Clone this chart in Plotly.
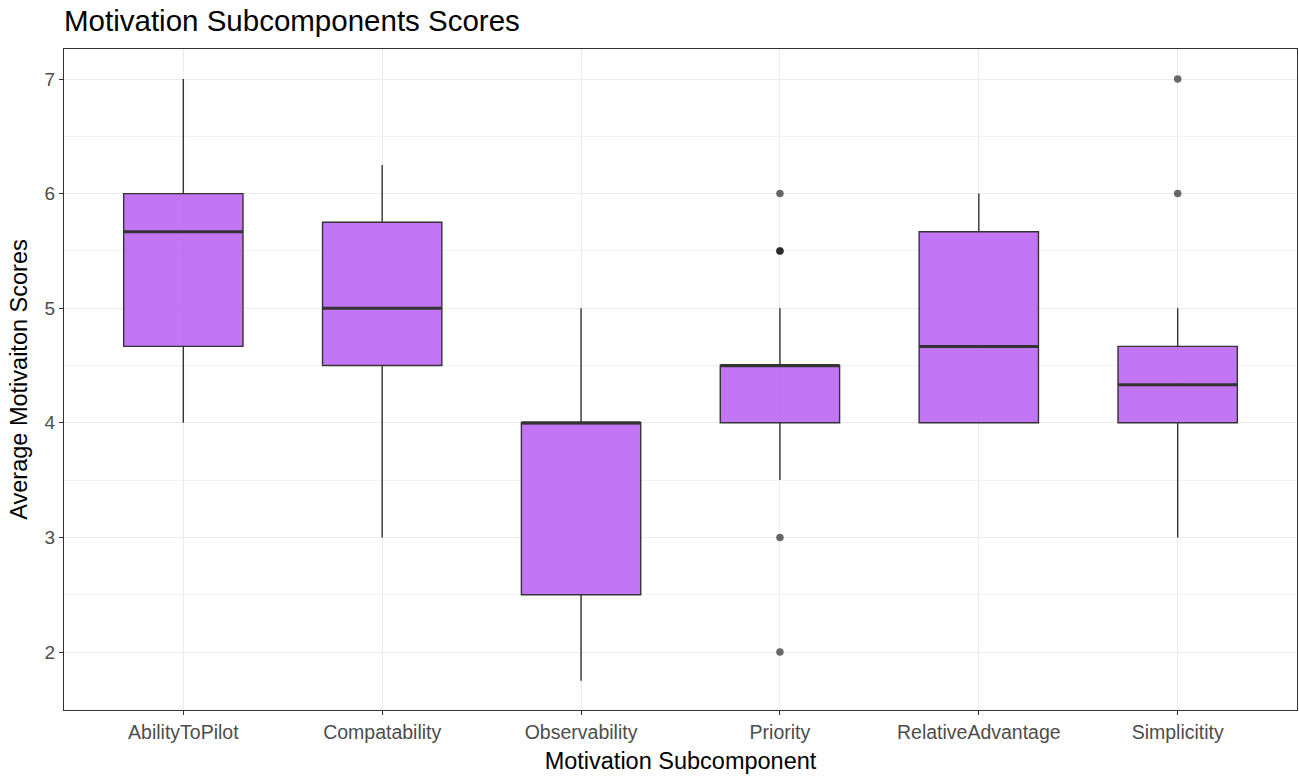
import plotly.graph_objects as go

# Summary statistics per motivation subcomponent
categories = ["AbilityToPilot", "Compatability", "Observability",
              "Priority", "RelativeAdvantage", "Simplicitity"]
q1 = [4.667, 4.5, 2.5, 4.0, 4.0, 4.0]
median = [5.667, 5.0, 4.0, 4.5, 4.667, 4.333]
q3 = [6.0, 5.75, 4.0, 4.5, 5.667, 4.667]
lower_whisker = [4.0, 3.0, 1.75, 3.5, 4.0, 3.0]
upper_whisker = [7.0, 6.25, 5.0, 5.0, 6.0, 5.0]

# Outlying observations (category index, score)
outlier_cat = [3, 3, 3, 3, 3, 5, 5]
outlier_val = [6.0, 5.5, 5.5, 3.0, 2.0, 7.0, 6.0]

box_width = 0.6
font_family = "Liberation Sans, Arial, sans-serif"
fill = "rgba(187,103,244,0.9)"
edge = "#333333"

fig = go.Figure()

for i, cat in enumerate(categories):
    fig.add_trace(go.Box(
        x=[i], q1=[q1[i]], median=[median[i]], q3=[q3[i]],
        lowerfence=[lower_whisker[i]], upperfence=[upper_whisker[i]],
        width=box_width, whiskerwidth=0, boxpoints=False,
        fillcolor=fill, line=dict(color=edge, width=1.4),
        name=cat, showlegend=False, hoverinfo="skip",
    ))
    # thicker median bar
    fig.add_trace(go.Scatter(
        x=[i - box_width / 2, i + box_width / 2], y=[median[i], median[i]],
        mode="lines", line=dict(color=edge, width=3),
        showlegend=False, hoverinfo="skip",
    ))

fig.add_trace(go.Scatter(
    x=outlier_cat, y=outlier_val, mode="markers",
    marker=dict(color="rgba(0,0,0,0.58)", size=7.5, line=dict(width=0)),
    showlegend=False, hoverinfo="skip",
))

fig.update_layout(
    width=1299, height=777,
    margin=dict(l=64, r=2, t=49, b=67),
    paper_bgcolor="white", plot_bgcolor="white",
    font=dict(family=font_family),
    title=dict(text="Motivation Subcomponents Scores",
               font=dict(size=29.5, color="black", family=font_family),
               xref="container", x=64 / 1299, xanchor="left",
               yref="container", y=1 - 21 / 777, yanchor="middle"),
)

fig.update_xaxes(
    range=[-0.6, 5.6],
    tickmode="array", tickvals=list(range(len(categories))), ticktext=categories,
    tickfont=dict(size=19.5, color="#4D4D4D"),
    ticks="outside", ticklen=4, tickcolor=edge, tickwidth=1,
    showgrid=True, gridcolor="#EBEBEB", gridwidth=1,
    showline=True, linecolor=edge, linewidth=1.2, mirror=True,
    zeroline=False, automargin=False,
    title=dict(text="Motivation Subcomponent",
               font=dict(size=23.5, color="black"), standoff=11),
)
fig.update_yaxes(
    range=[1.494, 7.262],
    tickmode="array", tickvals=[2, 3, 4, 5, 6, 7],
    tickfont=dict(size=19, color="#4D4D4D"),
    ticks="outside", ticklen=4, tickcolor=edge, tickwidth=1,
    showgrid=True, gridcolor="#EBEBEB", gridwidth=1,
    minor=dict(tickvals=[1.5, 2.5, 3.5, 4.5, 5.5, 6.5], showgrid=True,
               gridcolor="#F3F3F3", gridwidth=0.7, ticks=""),
    showline=True, linecolor=edge, linewidth=1.2, mirror=True,
    zeroline=False, automargin=False,
    title=dict(text="Average Motivaiton Scores",
               font=dict(size=23.5, color="black"), standoff=10),
)

fig.write_html("out.html")
